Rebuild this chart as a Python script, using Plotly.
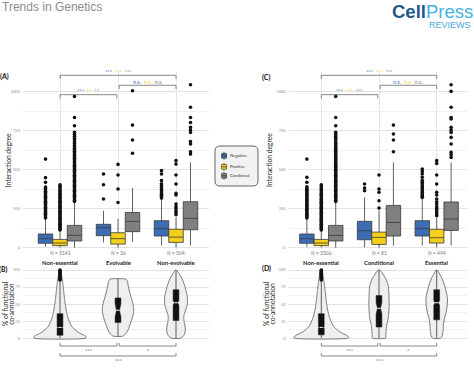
import math
import plotly.graph_objects as go

W, H = 474, 372

# ---------------- data ----------------
groups_a = ["Non-essential", "Evolvable", "Non-evolvable"]
n_a = [3141, 36, 504]
groups_c = ["Non-essential", "Conditional", "Essential"]
n_c = [3306, 81, 494]

# Interaction degree box stats (A)
a_neg_q1 = [28, 77, 75];   a_neg_med = [58, 128, 122];  a_neg_q3 = [88, 150, 173];  a_neg_lo = [6, 34, 13];  a_neg_hi = [184, 237, 312]
a_pos_q1 = [13, 23, 34];   a_pos_med = [30, 58, 68];    a_pos_q3 = [53, 96, 118];   a_pos_lo = [2, 0, 2];    a_pos_hi = [109, 184, 194]
a_com_q1 = [43, 103, 115]; a_com_med = [79, 169, 188];  a_com_q3 = [143, 226, 295]; a_com_lo = [0, 38, 13];  a_com_hi = [290, 382, 547]

# Interaction degree box stats (C)
c_neg_q1 = [28, 51, 75];   c_neg_med = [58, 109, 122];  c_neg_q3 = [88, 169, 173];  c_neg_lo = [6, 2, 13];   c_neg_hi = [184, 323, 312]
c_pos_q1 = [13, 21, 30];   c_pos_med = [30, 66, 64];    c_pos_q3 = [53, 100, 118];  c_pos_lo = [2, 0, 2];    c_pos_hi = [109, 237, 190]
c_com_q1 = [43, 75, 111];  c_com_med = [79, 162, 184];  c_com_q3 = [143, 271, 293]; c_com_lo = [0, 13, 13];  c_com_hi = [290, 547, 547]

# outliers (A)
a_neg_out = [
    [190, 197, 205, 213, 221, 229, 236, 244, 252, 259, 267, 275, 283, 291, 298, 306, 314, 322, 330, 338, 346, 354, 362, 371, 380, 389, 419, 449, 568],
    [312, 404, 472],
    [318, 326, 334, 342, 352, 363, 375, 386, 398, 410, 430, 472, 494],
]
a_pos_out = [
    [113, 120, 128, 135, 143, 150, 158, 165, 173, 180, 188, 196, 203, 211, 219, 226, 234, 242, 250, 258, 266, 274, 282, 290, 298, 306, 315, 324, 333, 342, 352, 362, 372, 383, 394, 404],
    [290, 376, 466, 534],
    [212, 224, 236, 249, 263, 280, 338, 348, 408, 466, 536, 558],
]
a_com_out = [
    [296, 304, 312, 320, 328, 336, 344, 352, 360, 368, 376, 384, 392, 400, 408, 416, 424, 432, 440, 448, 456, 464, 472, 480, 488, 496, 504, 512, 520, 528, 537, 546, 555, 564, 573, 582, 591, 600, 609, 618, 628, 638, 648, 658, 668, 678, 690, 702, 714, 727, 740, 782, 835, 970],
    [605, 690, 786, 1006],
    [600, 615, 665, 680, 739, 754, 771, 803, 835, 900, 1045],
]
# outliers (C)
c_neg_out = [
    [190, 198, 206, 214, 222, 230, 238, 246, 254, 262, 270, 278, 286, 294, 302, 310, 318, 326, 334, 342, 350, 358, 366, 374, 382, 391, 419, 451, 568],
    [365, 382, 408],
    [322, 330, 338, 346, 355, 365, 376, 386, 397, 408, 419, 430, 451, 472, 489, 504],
]
c_pos_out = [
    [113, 121, 128, 136, 143, 151, 158, 166, 173, 181, 188, 196, 204, 211, 219, 227, 235, 243, 251, 259, 267, 275, 283, 291, 299, 307, 316, 325, 334, 343, 353, 363, 373, 384, 395, 404],
    [254, 301, 355, 376, 466],
    [205, 216, 229, 241, 252, 263, 280, 295, 312, 338, 355, 408, 466, 540, 558],
]
c_com_out = [
    [296, 304, 312, 320, 328, 336, 344, 352, 360, 368, 376, 384, 392, 400, 408, 416, 424, 432, 440, 448, 456, 464, 472, 480, 488, 496, 504, 512, 520, 528, 537, 546, 555, 564, 573, 582, 591, 600, 609, 618, 628, 638, 648, 658, 668, 678, 690, 702, 714, 727, 740, 782, 835, 970],
    [615, 690, 729, 786],
    [579, 596, 611, 665, 707, 739, 754, 771, 825, 835, 900, 1002, 1045],
]

# % functional co-annotation: violin outlines (level, half-width in category units)
b1_lvl = [0, 1.5, 3, 5, 7, 10, 14, 18, 24, 30, 36, 43, 50, 57, 63, 70, 77, 83, 88, 93, 97, 100]
b1_w = [0.44, 0.453, 0.44, 0.405, 0.353, 0.293, 0.241, 0.198, 0.164, 0.138, 0.121, 0.103, 0.09, 0.079, 0.071, 0.062, 0.053, 0.045, 0.036, 0.028, 0.019, 0.01]
b2_lvl = [3, 5, 8, 14, 24, 34, 43, 53, 63, 75, 83, 86, 87]
b2_w = [0.078, 0.112, 0.147, 0.181, 0.224, 0.259, 0.272, 0.25, 0.216, 0.181, 0.164, 0.147, 0.121]
b3_lvl = [0, 2, 6, 12, 18, 25, 32, 38, 45, 52, 60, 68, 76, 84, 90, 95, 98, 100]
b3_w = [0.069, 0.112, 0.147, 0.16, 0.155, 0.138, 0.134, 0.152, 0.181, 0.198, 0.195, 0.178, 0.152, 0.121, 0.086, 0.052, 0.028, 0.009]
d1_lvl = [0, 1.5, 3, 5, 7, 10, 14, 18, 24, 30, 36, 43, 50, 57, 63, 70, 77, 83, 88, 93, 97, 100]
d1_w = [0.459, 0.477, 0.459, 0.425, 0.373, 0.312, 0.251, 0.208, 0.173, 0.144, 0.125, 0.107, 0.094, 0.083, 0.075, 0.066, 0.055, 0.047, 0.038, 0.029, 0.021, 0.01]
d2_lvl = [0, 2, 9.6, 19, 28.8, 38.5, 48, 58, 67.8, 77.6, 87, 94, 98, 100]
d2_w = [0.109, 0.118, 0.121, 0.133, 0.159, 0.17, 0.177, 0.173, 0.17, 0.159, 0.118, 0.069, 0.035, 0.012]
d3_lvl = [0, 3.4, 9.6, 19, 28.8, 38.5, 48, 58, 67.8, 77.6, 87, 94, 98, 100]
d3_w = [0.066, 0.095, 0.109, 0.116, 0.133, 0.165, 0.182, 0.187, 0.165, 0.135, 0.095, 0.052, 0.026, 0.009]

# inner boxes of violins
b_q1 = [4.4, 23, 26];  b_med = [16, 41, 52];  b_q3 = [36, 59, 71];  b_lo = [0, 3, 0];  b_hi = [84, 87, 100]
d_q1 = [5, 16.5, 27];  d_med = [16, 44, 52];  d_q3 = [36, 62.5, 71]; d_lo = [0, 0, 0];  d_hi = [84, 100, 100]
b_out = [85.5, 87, 88.5, 90, 91.5, 93, 94.5, 96, 97.5, 99, 100]
d_out = [85.5, 87, 88.5, 90, 91.5, 93, 94.5, 96, 97.5, 99, 100]

# significance labels
sig_a = [("***", "***", "***"), ("***", "**", "**"), ("n.s.", "n.s.", "n.s.")]
sig_c = [("***", "***", "***"), ("***", "***", "***"), ("n.s.", "n.s.", "n.s.")]
sig_b = ["***", "*", "***"]
sig_d = ["***", "*", "***"]

series_names = ["Negative", "Positive", "Combined"]
NEG, POS, COM = "#3c6cb4", "#f4d01a", "#7f7f7f"
series_colors = [NEG, POS, COM]
FONT = "Lato"

def X(p):
    return p / W

def Y(p):
    return 1 - p / H

fig = go.Figure()

# ---------------- box panels ----------------
def box_panel(xa, ya, stats, outs):
    offs = [-0.25, 0.0, 0.25]
    for k, (q1, med, q3, lo, hi) in enumerate(stats):
        pos = [g + offs[k] for g in range(3)]
        fig.add_trace(go.Box(
            x=pos, q1=q1, median=med, q3=q3, lowerfence=lo, upperfence=hi,
            width=0.25, whiskerwidth=0, boxpoints=False,
            fillcolor=series_colors[k], line=dict(color="#3a3a3a", width=0.8),
            xaxis=xa, yaxis=ya, showlegend=False, hoverinfo="skip"))
        xs, ys = [], []
        for g in range(3):
            xs += [g + offs[k]] * len(outs[k][g])
            ys += outs[k][g]
        fig.add_trace(go.Scatter(x=xs, y=ys, mode="markers",
                                 marker=dict(color="#111111", size=3.6),
                                 xaxis=xa, yaxis=ya, showlegend=False, hoverinfo="skip"))

box_panel("x", "y",
          [(a_neg_q1, a_neg_med, a_neg_q3, a_neg_lo, a_neg_hi),
           (a_pos_q1, a_pos_med, a_pos_q3, a_pos_lo, a_pos_hi),
           (a_com_q1, a_com_med, a_com_q3, a_com_lo, a_com_hi)],
          [a_neg_out, a_pos_out, a_com_out])
box_panel("x2", "y2",
          [(c_neg_q1, c_neg_med, c_neg_q3, c_neg_lo, c_neg_hi),
           (c_pos_q1, c_pos_med, c_pos_q3, c_pos_lo, c_pos_hi),
           (c_com_q1, c_com_med, c_com_q3, c_com_lo, c_com_hi)],
          [c_neg_out, c_pos_out, c_com_out])

# ---------------- violin panels ----------------
def violin_panel(xa, ya, profiles, q1, med, q3, lo, hi, ns, outs):
    for g, (lvl, w) in enumerate(profiles):
        xs = [g + v for v in w] + [g - v for v in reversed(w)] + [g + w[0]]
        ys = list(lvl) + list(reversed(lvl)) + [lvl[0]]
        fig.add_trace(go.Scatter(x=xs, y=ys, mode="lines", fill="toself",
                                 fillcolor="#efefef", line=dict(color="#5a5a5a", width=0.8, shape="spline", smoothing=0.6),
                                 xaxis=xa, yaxis=ya, showlegend=False, hoverinfo="skip"))
    wx, wy = [], []
    for g in range(3):
        wx += [g, g, None, g, g, None]
        wy += [lo[g], q1[g], None, q3[g], hi[g], None]
    fig.add_trace(go.Scatter(x=wx, y=wy, mode="lines", line=dict(color="#4a4a4a", width=0.9),
                             xaxis=xa, yaxis=ya, showlegend=False, hoverinfo="skip"))
    hw = 0.05
    for g in range(3):
        n = 1.58 * (q3[g] - q1[g]) / math.sqrt(ns[g])
        bx = [g - hw, g + hw, g + hw, g + hw * 0.5, g + hw, g + hw, g - hw, g - hw, g - hw * 0.5, g - hw, g - hw]
        by = [q1[g], q1[g], med[g] - n, med[g], med[g] + n, q3[g], q3[g], med[g] + n, med[g], med[g] - n, q1[g]]
        fig.add_trace(go.Scatter(x=bx, y=by, mode="lines", fill="toself", fillcolor="#111111",
                                 line=dict(color="#111111", width=0.5),
                                 xaxis=xa, yaxis=ya, showlegend=False, hoverinfo="skip"))
    mx, my = [], []
    for g in range(3):
        mx += [g - 0.026, g + 0.026, None]
        my += [med[g], med[g], None]
    fig.add_trace(go.Scatter(x=mx, y=my, mode="lines", line=dict(color="white", width=1),
                             xaxis=xa, yaxis=ya, showlegend=False, hoverinfo="skip"))
    fig.add_trace(go.Scatter(x=[0] * len(outs), y=outs, mode="markers",
                             marker=dict(color="#111111", size=3.6),
                             xaxis=xa, yaxis=ya, showlegend=False, hoverinfo="skip"))

violin_panel("x3", "y3", [(b1_lvl, b1_w), (b2_lvl, b2_w), (b3_lvl, b3_w)],
             b_q1, b_med, b_q3, b_lo, b_hi, n_a, b_out)
violin_panel("x4", "y4", [(d1_lvl, d1_w), (d2_lvl, d2_w), (d3_lvl, d3_w)],
             d_q1, d_med, d_q3, d_lo, d_hi, n_c, d_out)

# ---------------- brackets ----------------
annotations = []

def ann(**kw):
    kw.setdefault("xanchor", "center")
    kw.setdefault("yanchor", "middle")
    kw.setdefault("showarrow", False)
    annotations.append(kw)

def bracket_top(xa, ya, sig):
    specs = [(0, 2, 1105), (0, 0.98, 981), (1.02, 2, 1041)]
    xs, ys = [], []
    for x0, x1, v in specs:
        xs += [x0, x0, x1, x1, None]
        ys += [v - 24, v, v, v - 24, None]
    fig.add_trace(go.Scatter(x=xs, y=ys, mode="lines", line=dict(color="#6a6a6a", width=0.8),
                             xaxis=xa, yaxis=ya, showlegend=False, hoverinfo="skip"))
    for (x0, x1, v), labs in zip(specs, sig):
        txt = "  ".join(f'<span style="color:{c}">{t}</span>' for t, c in zip(labs, series_colors))
        ann(x=(x0 + x1) / 2, y=v, xref=xa, yref=ya, text=txt,
            yanchor="bottom", yshift=-1.5, font=dict(size=5.5, family=FONT))

def bracket_bottom(xa, ya, sig):
    specs = [(0, 0.98, -11.3), (1.02, 2, -11.3), (0, 2, -25.9)]
    xs, ys = [], []
    for x0, x1, v in specs:
        xs += [x0, x0, x1, x1, None]
        ys += [v + 4.4, v, v, v + 4.4, None]
    fig.add_trace(go.Scatter(x=xs, y=ys, mode="lines", line=dict(color="#6a6a6a", width=0.8),
                             xaxis=xa, yaxis=ya, showlegend=False, hoverinfo="skip"))
    for (x0, x1, v), lab in zip(specs, sig):
        ann(x=(x0 + x1) / 2, y=v, xref=xa, yref=ya, text=lab,
            yanchor="top", font=dict(size=5.5, color="#555555", family=FONT))

bracket_top("x", "y", sig_a)
bracket_top("x2", "y2", sig_c)
bracket_bottom("x3", "y3", sig_b)
bracket_bottom("x4", "y4", sig_d)

# ---------------- category labels ----------------
for xa, names, ns in (("x", groups_a, n_a), ("x2", groups_c, n_c)):
    for g in range(3):
        ann(x=g, y=Y(253), xref=xa, yref="paper", text=f"<i>N</i> = {ns[g]}",
            font=dict(size=5, color="#777777", family=FONT))
        ann(x=g, y=Y(262), xref=xa, yref="paper", text=f"<b>{names[g]}</b>",
            font=dict(size=5.8, color="#222222", family=FONT))

# panel letters
for t, x, y in (("(A)", 4.5, 76.5), ("(C)", 266, 77), ("(B)", 4, 269), ("(D)", 266, 268.5)):
    ann(x=X(x), y=Y(y), xref="paper", yref="paper", text=f"<b>{t}</b>",
        font=dict(size=7, color="#111111", family=FONT))

# axis titles
for x in (8.3, 269):
    ann(x=X(x), y=Y(160), xref="paper", yref="paper", text="Interaction degree",
        textangle=-90, font=dict(size=6.7, color="#222222", family=FONT))
for x1, x2 in ((5, 10.8), (266, 271.5)):
    ann(x=X(x1), y=Y(304), xref="paper", yref="paper", text="% of functional",
        textangle=-90, font=dict(size=6.7, color="#222222", family=FONT))
    ann(x=X(x2), y=Y(304), xref="paper", yref="paper", text="co-annotation",
        textangle=-90, font=dict(size=6.7, color="#222222", family=FONT))

# header
ann(x=0, y=Y(7.5), xref="paper", yref="paper", xanchor="left", text="Trends in Genetics",
    font=dict(size=12, color="#8c8c8c", family="Liberation Sans"))
ann(x=X(475), y=Y(11.8), xref="paper", yref="paper", xanchor="right",
    text='<b><span style="color:#1d5a8c">Cell</span></b><span style="color:#45b0e2">Press</span>',
    font=dict(size=18.5, family="Liberation Sans"))
ann(x=X(473), y=Y(25), xref="paper", yref="paper", xanchor="right", text="REVIEWS",
    font=dict(size=9, color="#45a8dc", family="Liberation Sans"))

# ---------------- legend (drawn) ----------------
shapes = []
def rrect(x0, y0, x1, y1, r):
    return (f"M {X(x0+r)},{Y(y0)} L {X(x1-r)},{Y(y0)} Q {X(x1)},{Y(y0)} {X(x1)},{Y(y0+r)} "
            f"L {X(x1)},{Y(y1-r)} Q {X(x1)},{Y(y1)} {X(x1-r)},{Y(y1)} L {X(x0+r)},{Y(y1)} "
            f"Q {X(x0)},{Y(y1)} {X(x0)},{Y(y1-r)} L {X(x0)},{Y(y0+r)} Q {X(x0)},{Y(y0)} {X(x0+r)},{Y(y0)} Z")
shapes.append(dict(type="path", xref="paper", yref="paper", path=rrect(215, 146, 258, 186, 5),
                   fillcolor="#f2f2f2", line=dict(color="#555555", width=0.9), layer="above"))
for k, yc in enumerate([155.8, 166.8, 175.8]):
    shapes.append(dict(type="line", xref="paper", yref="paper", x0=X(224), x1=X(224), y0=Y(yc - 4), y1=Y(yc + 4),
                       line=dict(color="#333333", width=0.7), layer="above"))
    shapes.append(dict(type="rect", xref="paper", yref="paper", x0=X(221.6), x1=X(226.6), y0=Y(yc - 2.4), y1=Y(yc + 2.4),
                       fillcolor=series_colors[k], line=dict(color="#333333", width=0.6), layer="above"))
    shapes.append(dict(type="line", xref="paper", yref="paper", x0=X(221.6), x1=X(226.6), y0=Y(yc), y1=Y(yc),
                       line=dict(color="#222222", width=0.6), layer="above"))
    ann(x=X(227.8), y=Y(yc), xref="paper", yref="paper", xanchor="left", text=series_names[k],
        font=dict(size=4.3, color="#333333", family=FONT))

# ---------------- axes ----------------
def yax(domain, rng, tv, minor_tv, anchor):
    return dict(domain=domain, range=rng, tickvals=tv, ticktext=[str(v) for v in tv],
                tickfont=dict(size=4, color="#8f8f8f", family=FONT), showgrid=True,
                gridcolor="#e2e2e2", gridwidth=0.6, zeroline=False, showline=False, ticks="",
                anchor=anchor, minor=dict(tickvals=minor_tv, showgrid=True, gridcolor="#f0f0f0", gridwidth=0.5),
                fixedrange=True, ticklabelstandoff=2)

def xax(domain, rng, anchor, grid):
    return dict(domain=domain, range=rng, tickvals=[0, 1, 2], showticklabels=False, showgrid=grid,
                gridcolor="#e6e6e6", gridwidth=0.6, zeroline=False, ticks="", anchor=anchor, fixedrange=True)

box_ydom = [Y(250.04), Y(72.2)]
vio_ydom = [Y(357.4), Y(266.6)]
a_xdom = [X(23), X(209)]
c_xdom = [X(288.7), X(466.7)]
a_rng = [-0.638, 2.569]
c_rng = [-0.565, 2.520]

fig.update_layout(
    width=W, height=H, margin=dict(l=0, r=0, t=0, b=0),
    paper_bgcolor="white", plot_bgcolor="white",
    font=dict(family=FONT),
    boxmode="overlay",
    xaxis=xax(a_xdom, a_rng, "y", True),
    yaxis=yax(box_ydom, [-15, 1125], [0, 250, 500, 750, 1000], [125, 375, 625, 875], "x"),
    xaxis2=xax(c_xdom, c_rng, "y2", True),
    yaxis2=yax(box_ydom, [-15, 1125], [0, 250, 500, 750, 1000], [125, 375, 625, 875], "x2"),
    xaxis3=xax(a_xdom, a_rng, "y3", False),
    yaxis3=yax(vio_ydom, [-28, 105], [0, 25, 50, 75, 100], [12.5, 37.5, 62.5, 87.5], "x3"),
    xaxis4=xax(c_xdom, c_rng, "y4", False),
    yaxis4=yax(vio_ydom, [-28, 105], [0, 25, 50, 75, 100], [12.5, 37.5, 62.5, 87.5], "x4"),
    annotations=annotations, shapes=shapes, showlegend=False,
)
fig.write_html("out.html", config={"displayModeBar": False},
               post_script="document.body.style.margin='0';document.body.style.padding='0';")
